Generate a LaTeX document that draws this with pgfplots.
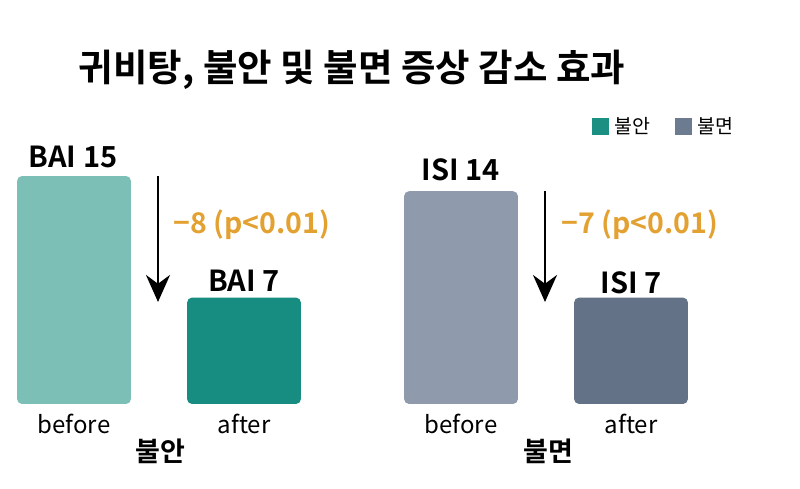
\documentclass[border=0pt]{standalone}
\usepackage{pgfplots}
\pgfplotsset{compat=1.18}
\usepackage{fontspec}
\setmainfont{Noto Sans CJK KR}[BoldFont={Noto Sans CJK KR Bold}]
\usetikzlibrary{arrows.meta}
\definecolor{c1}{HTML}{7CBFB6}
\definecolor{c2}{HTML}{168D80}
\definecolor{c3}{HTML}{8F9BAC}
\definecolor{c4}{HTML}{637286}
\definecolor{lg1}{HTML}{1B8F82}
\definecolor{lg2}{HTML}{6D7B90}
\definecolor{org}{HTML}{E3A132}
\begin{document}
\begin{tikzpicture}
\path (0,0) rectangle (800pt,489pt);
\begin{axis}[at={(0pt,0pt)}, anchor=south west, scale only axis,
  width=800pt, height=489pt,
  xmin=-0.4353, xmax=4.2706, ymin=-5.592, ymax=26.58,
  axis lines=none, clip=false]
\addplot[ybar, bar width=0.67, bar shift=0pt, fill=c1, draw=none, rounded corners=5pt] coordinates {(0,15)};
\addplot[ybar, bar width=0.67, bar shift=0pt, fill=c2, draw=none, rounded corners=5pt] coordinates {(1,7)};
\addplot[ybar, bar width=0.67, bar shift=0pt, fill=c3, draw=none, rounded corners=5pt] coordinates {(2.2765,14)};
\addplot[ybar, bar width=0.67, bar shift=0pt, fill=c4, draw=none, rounded corners=5pt] coordinates {(3.2765,7)};
\end{axis}
% title
\node[font=\bfseries\fontsize{37.5}{40}\selectfont] at (352pt,419pt) {귀비탕, 불안 및 불면 증상 감소 효과};
% legend
\fill[lg1] (592pt,354pt) rectangle (609pt,371pt);
\node[anchor=west, font=\fontsize{19.5}{22}\selectfont] at (611pt,363pt) {불안};
\fill[lg2] (675pt,354pt) rectangle (692pt,371pt);
\node[anchor=west, font=\fontsize{19.5}{22}\selectfont] at (694pt,363pt) {불면};
% value labels
\node[font=\bfseries\fontsize{29}{32}\selectfont] at (73pt,332pt) {BAI 15};
\node[font=\bfseries\fontsize{29}{32}\selectfont] at (244pt,208pt) {BAI 7};
\node[font=\bfseries\fontsize{29}{32}\selectfont] at (461pt,319pt) {ISI 14};
\node[font=\bfseries\fontsize{29}{32}\selectfont] at (631pt,206pt) {ISI 7};
% arrows
\draw[line width=2.6pt, -{Stealth[length=27pt,width=24pt]}] (158pt,313pt) -- (158pt,187pt);
\draw[line width=2.6pt, -{Stealth[length=27pt,width=24pt]}] (545pt,298pt) -- (545pt,187pt);
\node[text=org, font=\bfseries\fontsize{28.5}{31}\selectfont] at (252pt,264pt) {−8 (p<0.01)};
\node[text=org, font=\bfseries\fontsize{28.5}{31}\selectfont] at (640pt,264pt) {−7 (p<0.01)};
% category labels
\foreach \x/\t in {74/before,244/after,461/before,631/after}
  \node[font=\fontsize{24}{27}\selectfont] at (\x pt,65pt) {\t};
\node[font=\bfseries\fontsize{27}{30}\selectfont] at (160pt,38pt) {불안};
\node[font=\bfseries\fontsize{27}{30}\selectfont] at (548pt,38pt) {불면};
\end{tikzpicture}
\end{document}
